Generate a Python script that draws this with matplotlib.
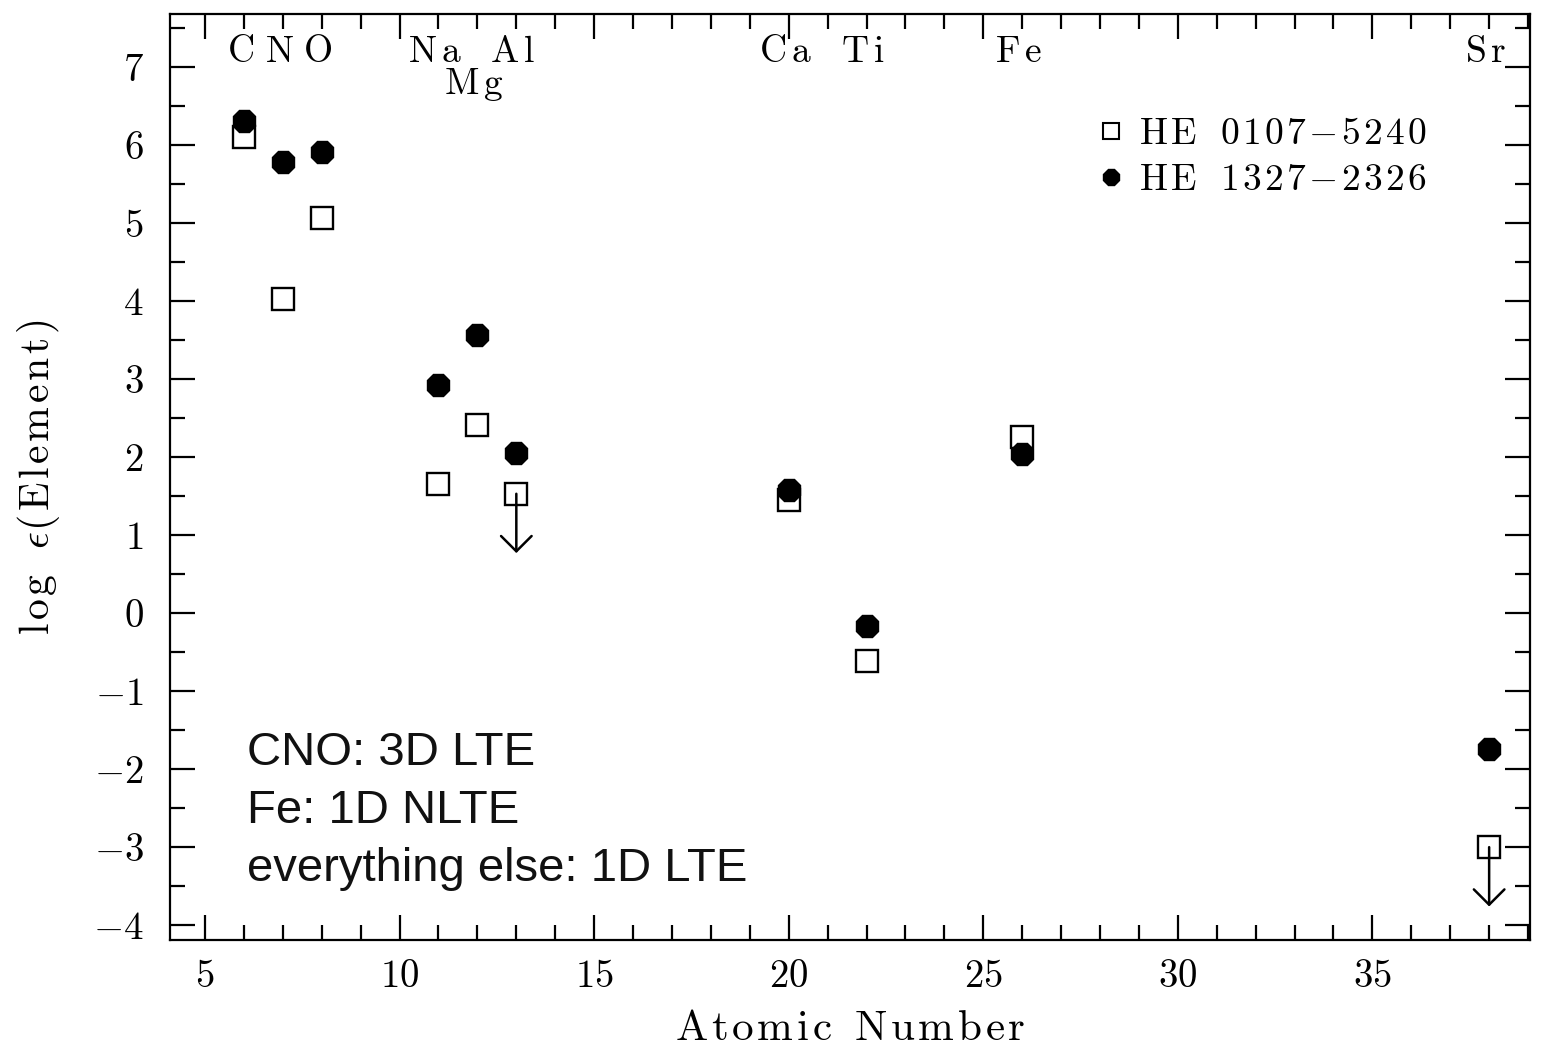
import matplotlib
matplotlib.use("Agg")
import matplotlib.pyplot as plt
from matplotlib.ticker import MultipleLocator
from matplotlib.lines import Line2D

plt.rcParams['mathtext.fontset'] = 'cm'
plt.rcParams['axes.formatter.use_mathtext'] = True
plt.rcParams['font.family'] = ['cmr10', 'DejaVu Serif']
plt.rcParams['axes.unicode_minus'] = True

# Data
elements = ["C", "N", "O", "Na", "Mg", "Al", "Ca", "Ti", "Fe", "Sr"]
atomic_number = [6, 7, 8, 11, 12, 13, 20, 22, 26, 38]
he0107 = [6.10, 4.03, 5.06, 1.65, 2.41, 1.53, 1.45, -0.62, 2.26, -3.00]
he0107_upper = [False, False, False, False, False, True, False, False, False, True]
he1327 = [6.31, 5.78, 5.91, 2.92, 3.56, 2.05, 1.58, -0.17, 2.04, -1.74]
label_row = [0, 0, 0, 0, 1, 0, 0, 0, 0, 0]
notes = ["CNO: 3D LTE", "Fe: 1D NLTE", "everything else: 1D LTE"]
star_names = ["HE 0107-5240", "HE 1327-2326"]


def spaced(s, gap=0.12, word=0.6):
    # letter-spaced roman text via mathtext
    parts = []
    for w in s.split(' '):
        chars = [('{-}' if c == '-' else c) for c in w]
        parts.append((r'\hspace{%g}' % gap).join(chars))
    return r'$\mathrm{' + (r'\hspace{%g}' % word).join(parts) + '}$'


fig = plt.figure(figsize=(15.44, 10.49), dpi=100)
ax = fig.add_axes([170/1544, 1-940/1049, 1360/1544, 926/1049])

ax.plot(atomic_number, he0107, linestyle='none', marker='s', markersize=15.5,
        markerfacecolor='white', markeredgecolor='black', markeredgewidth=1.7, zorder=3)
ax.plot(atomic_number, he1327, linestyle='none', marker='8', markersize=17,
        markerfacecolor='black', markeredgecolor='black', zorder=4)

arrow_len = 0.76
for z, v, up in zip(atomic_number, he0107, he0107_upper):
    if up:
        ax.annotate('', xy=(z, v - arrow_len), xytext=(z, v),
                    arrowprops=dict(arrowstyle='->,head_length=0.55,head_width=0.55',
                                    mutation_scale=20,
                                    color='black', lw=1.8, shrinkA=0, shrinkB=0),
                    zorder=5)

for name, z, row in zip(elements, atomic_number, label_row):
    y = 7.19 if row == 0 else 6.77
    ax.text(z - 0.1, y, spaced(name, gap=0.15), ha='center', va='center', fontsize=27)

for i, t in enumerate(notes):
    ax.text(6.08, -1.95 - 0.745 * i, t, ha='left', va='baseline', fontsize=34,
            family=['Liberation Sans', 'DejaVu Sans'], color='#111111')

h1 = Line2D([], [], linestyle='none', marker='s', markersize=12, markerfacecolor='white',
            markeredgecolor='black', markeredgewidth=1.5)
h2 = Line2D([], [], linestyle='none', marker='8', markersize=13, markerfacecolor='black',
            markeredgecolor='black')
ax.legend([h1, h2], [spaced(n, gap=0.1, word=0.75) for n in star_names], loc='upper left',
          bbox_to_anchor=(0.658, 0.916), frameon=False, fontsize=27,
          handletextpad=0.22, labelspacing=0.33, handlelength=1.05, borderpad=0.2)

ax.set_xlim(4.1, 39.05)
ax.set_ylim(-4.19, 7.68)
ax.xaxis.set_major_locator(MultipleLocator(5))
ax.xaxis.set_minor_locator(MultipleLocator(1))
ax.yaxis.set_major_locator(MultipleLocator(1))
ax.yaxis.set_minor_locator(MultipleLocator(0.5))
ax.tick_params(which='both', direction='in', top=True, right=True, width=1.6, colors='black')
ax.tick_params(which='major', length=18, labelsize=28)
ax.tick_params(axis='x', which='major', pad=14)
ax.tick_params(axis='y', which='major', pad=19)
ax.tick_params(which='minor', length=11)
for s in ax.spines.values():
    s.set_linewidth(1.6)

ax.set_xlabel(spaced('Atomic Number', gap=0.1, word=0.6), fontsize=31, labelpad=11)
ax.set_ylabel(r'$\mathrm{l\hspace{0.1}o\hspace{0.1}g}\hspace{0.7}\epsilon\hspace{0.05}'
              r'\mathrm{(\hspace{0.1}E\hspace{0.1}l\hspace{0.1}e\hspace{0.1}m\hspace{0.1}'
              r'e\hspace{0.1}n\hspace{0.1}t\hspace{0.1})}$',
              fontsize=30, labelpad=22)

fig.savefig('out.png', dpi=100)
